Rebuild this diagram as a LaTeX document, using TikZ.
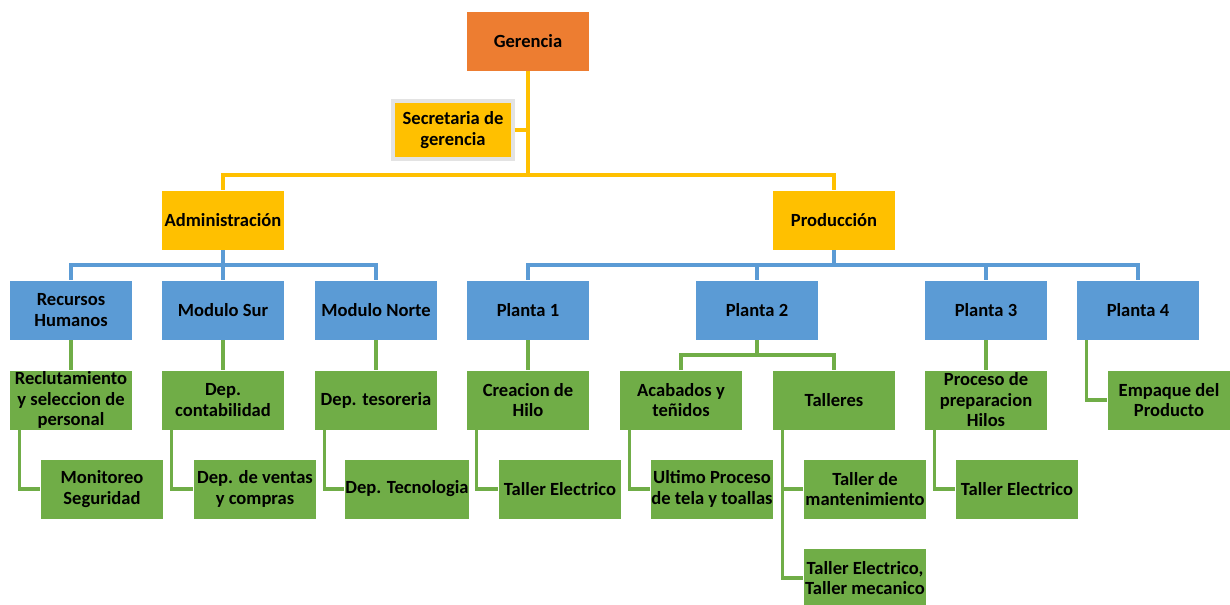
\documentclass[tikz,border=0pt]{standalone}
\usepackage{fontspec}
\setmainfont{Carlito}
\usetikzlibrary{positioning}
\definecolor{naranja}{HTML}{ED7D31}
\definecolor{oro}{HTML}{FFC000}
\definecolor{azul}{HTML}{5B9BD5}
\definecolor{verde}{HTML}{70AD47}
\tikzset{
    caja/.style={minimum width=3.075cm, minimum height=1.5cm, inner sep=0.5pt, align=center,
        draw=white, line width=0.4pt, font=\fontsize{13.2}{14.6}\selectfont\bfseries},
    jefe/.style={caja, fill=naranja},
    area/.style={caja, fill=oro},
    depto/.style={caja, fill=azul},
    sub/.style={caja, fill=verde},
    linea/.style={line width=2.2pt},
}

\begin{document}
\begin{tikzpicture}[x=0.025cm, y=-0.025cm]
    \useasboundingbox (0,0) rectangle (1230,605);
    % nivel 0 y 1
    \node[jefe] (ger) at (528,41) {Gerencia};
    \node[area, minimum width=3.0cm, minimum height=1.45cm, draw=gray!22, line width=2.2pt] (sec) at (453,130) {Secretaria de\\gerencia};
    \node[area] (adm) at (223,220) {Administración};
    \node[area] (pro) at (834,220) {Producción};
    % nivel 2
    \node[depto] (rh)  at (71,310)   {Recursos\\Humanos};
    \node[depto] (sur) at (223,310)  {Modulo Sur};
    \node[depto] (nor) at (376,310)  {Modulo Norte};
    \node[depto] (p1)  at (528,310)  {Planta 1};
    \node[depto] (p2)  at (757,310)  {Planta 2};
    \node[depto] (p3)  at (986,310)  {Planta 3};
    \node[depto] (p4)  at (1138,310) {Planta 4};
    % nivel 3
    \node[sub] (rec) at (71,400)   {Reclutamiento\\y seleccion de\\personal};
    \node[sub] (con) at (223,400)  {Dep.\\contabilidad};
    \node[sub] (tes) at (376,400)  {Dep. tesoreria};
    \node[sub] (hil) at (528,400)  {Creacion de\\Hilo};
    \node[sub] (aca) at (681,400)  {Acabados y\\teñidos};
    \node[sub] (tal) at (834,400)  {Talleres};
    \node[sub] (pph) at (986,400)  {Proceso de\\preparacion\\Hilos};
    \node[sub] (emp) at (1169,400) {Empaque del\\Producto};
    % nivel 4
    \node[sub] (mon)  at (102,489) {Monitoreo\\Seguridad};
    \node[sub] (ven)  at (255,489) {Dep. de ventas\\y compras};
    \node[sub] (tec)  at (407,489) {Dep. Tecnologia};
    \node[sub] (te1)  at (560,489) {Taller Electrico};
    \node[sub] (ult)  at (712,489) {Ultimo Proceso\\de tela y toallas};
    \node[sub] (man)  at (865,489) {Taller de\\mantenimiento};
    \node[sub] (mec)  at (865,578) {Taller Electrico,\\Taller mecanico};
    \node[sub] (te3)  at (1017,489) {Taller Electrico};
    % buses
    \coordinate (bg) at (528,175);
    \coordinate (ba) at (223,265);
    \coordinate (bp) at (834,265);
    \coordinate (b2) at (757,355);
    % lineas
    \draw[linea, oro] (ger.south) -- (bg);
    \draw[linea, oro] (sec.east) -- (sec.east -| bg);
    \draw[linea, oro] (adm.north) |- (bg) -| (pro.north);
    \draw[linea, azul] (adm.south) -- (ba);
    \draw[linea, azul] (rh.north) |- (ba) -| (nor.north);
    \draw[linea, azul] (sur.north) -- (ba);
    \draw[linea, azul] (pro.south) -- (bp);
    \draw[linea, azul] (p1.north) |- (bp) -| (p4.north);
    \draw[linea, azul] (p2.north) |- (bp);
    \draw[linea, azul] (p3.north) |- (bp);
    \draw[linea, verde] (rh) -- (rec);
    \draw[linea, verde] (sur) -- (con);
    \draw[linea, verde] (nor) -- (tes);
    \draw[linea, verde] (p1) -- (hil);
    \draw[linea, verde] (p3) -- (pph);
    \draw[linea, verde] (p2.south) -- (b2);
    \draw[linea, verde] (aca.north) |- (b2) -| (tal.north);
    \draw[linea, verde] ([xshift=2.5mm]p4.south west) |- (emp.west);
    \draw[linea, verde] ([xshift=2.5mm]rec.south west) |- (mon.west);
    \draw[linea, verde] ([xshift=2.5mm]con.south west) |- (ven.west);
    \draw[linea, verde] ([xshift=2.5mm]tes.south west) |- (tec.west);
    \draw[linea, verde] ([xshift=2.5mm]hil.south west) |- (te1.west);
    \draw[linea, verde] ([xshift=2.5mm]aca.south west) |- (ult.west);
    \draw[linea, verde] ([xshift=2.5mm]tal.south west) |- (man.west);
    \draw[linea, verde] ([xshift=2.5mm]tal.south west) |- (mec.west);
    \draw[linea, verde] ([xshift=2.5mm]pph.south west) |- (te3.west);
\end{tikzpicture}
\end{document}
